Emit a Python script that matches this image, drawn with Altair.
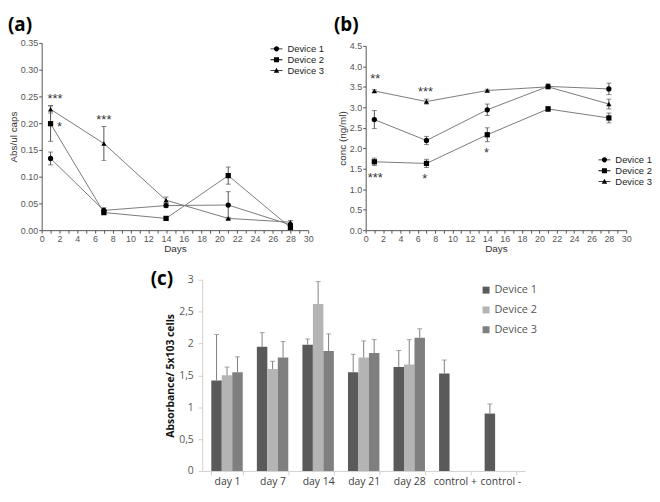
import altair as alt
import pandas as pd

# ---------------- data ----------------
days = [1, 7, 14, 21, 28]
devices = ["Device 1", "Device 2", "Device 3"]

# panel (a): Abs/ul caps
a_mean = {
    "Device 1": [0.134, 0.037, 0.046, 0.047, 0.010],
    "Device 2": [0.199, 0.033, 0.022, 0.102, 0.005],
    "Device 3": [0.226, 0.162, 0.056, 0.022, 0.015],
}
a_err = {
    "Device 1": [0.012, 0.005, 0.003, 0.025, 0.003],
    "Device 2": [0.033, 0.004, 0.002, 0.016, 0.004],
    "Device 3": [0.007, 0.032, 0.006, 0.002, 0.003],
}
a_star_text = ["***", "*", "***"]
a_star_day = [1.5, 2.0, 7.0]
a_star_val = [0.250, 0.198, 0.212]

# panel (b): conc (ng/ml)
b_mean = {
    "Device 1": [2.70, 2.19, 2.94, 3.51, 3.45],
    "Device 2": [1.67, 1.63, 2.33, 2.96, 2.74],
    "Device 3": [3.40, 3.14, 3.41, 3.50, 3.08],
}
b_err = {
    "Device 1": [0.22, 0.10, 0.14, 0.06, 0.14],
    "Device 2": [0.09, 0.10, 0.17, 0.06, 0.12],
    "Device 3": [0.03, 0.06, 0.03, 0.05, 0.12],
}
b_star_text = ["**", "***", "***", "*", "*"]
b_star_day = [1.1, 6.9, 1.1, 6.8, 13.9]
b_star_val = [3.77, 3.45, 1.34, 1.31, 1.95]

# panel (c): Absorbance / 5x103 cells
groups = ["day 1", "day 7", "day 14", "day 21", "day 28", "control +", "control -"]
c_mean = {
    "Device 1": [1.42, 1.95, 1.98, 1.55, 1.63, 1.53, 0.90],
    "Device 2": [1.50, 1.60, 2.62, 1.78, 1.67],
    "Device 3": [1.55, 1.78, 1.88, 1.85, 2.09],
}
c_err = {
    "Device 1": [0.72, 0.22, 0.09, 0.28, 0.26, 0.21, 0.15],
    "Device 2": [0.13, 0.12, 0.35, 0.26, 0.39],
    "Device 3": [0.24, 0.25, 0.27, 0.21, 0.14],
}
c_colors = ["#5a5a5a", "#b4b4b4", "#7f7f7f"]

FONT = "Liberation Sans"
BOLD_FONT = "Open Sans"
NOVIEW = alt.ViewBackground(stroke="transparent", strokeWidth=0)
TAG_SIZE = 19


def tidy(mean, err, keys, keyname):
    rows = []
    for dev in devices:
        for k, v, e in zip(keys, mean[dev], err[dev]):
            rows.append({keyname: k, "Device": dev, "value": v, "lo": v - e, "hi": v + e})
    return pd.DataFrame(rows)


# legend symbols: a short line with the marker on it
LINE = "M-1,-0.07 L1,-0.07 L1,0.07 L-1,0.07 Z "
leg_paths = [
    LINE + "M0.44,0 A0.44,0.44 0 1,1 -0.44,0 A0.44,0.44 0 1,1 0.44,0 Z",
    LINE + "M-0.42,-0.42 L0.42,-0.42 L0.42,0.42 L-0.42,0.42 Z",
    LINE + "M0,-0.48 L0.46,0.36 L-0.46,0.36 Z",
]


def line_panel(mean, err, st_text, st_day, st_val, ymax, ystep, yfmt, ytitle,
               width, height, yrange, leg_x, leg_y, tag, tag_x):
    df = tidy(mean, err, days, "Day")
    stars = pd.DataFrame({"Day": st_day, "value": st_val, "s": st_text})
    tagdf = pd.DataFrame({"t": [tag]})

    ax_common = dict(domainColor="#555555", tickColor="#555555", labelColor="#555555",
                     labelFontSize=9, labelFont=FONT, titleFont=FONT, titleFontSize=10,
                     titleColor="#333333", titleFontWeight="normal", tickSize=3,
                     labelPadding=1, grid=False, labelOverlap=False, labelFlush=False)
    nticks = int(round(ymax / ystep))
    yvals = [round(i * ystep, 3) for i in range(nticks + 1)]
    xsc = alt.Scale(domain=[0, 30], nice=False, zero=False)
    ysc_kw = dict(domain=[0, ymax], nice=False)
    if yrange is not None:
        ysc_kw["range"] = yrange
    ysc = alt.Scale(**ysc_kw)

    def X():
        return alt.X("Day:Q", title="Days", scale=xsc,
                     axis=alt.Axis(values=list(range(31)),
                                   labelExpr="datum.value % 2 === 0 ? datum.label : ''",
                                   titlePadding=1, **ax_common))

    def Y(field):
        return alt.Y(field, title=ytitle, scale=ysc,
                     axis=alt.Axis(values=yvals, format=yfmt, titlePadding=2, **ax_common))

    base = alt.Chart(df)
    lines = base.mark_line(color="#7a7a7a", strokeWidth=1).encode(
        x=X(), y=Y("value:Q"), detail="Device:N")
    rule = base.mark_rule(color="#555555", strokeWidth=1).encode(
        x=X(), y=Y("lo:Q"), y2="hi:Q")
    tlo = base.mark_tick(orient="horizontal", size=5, thickness=1, color="#555555").encode(
        x=X(), y=Y("lo:Q"))
    thi = base.mark_tick(orient="horizontal", size=5, thickness=1, color="#555555").encode(
        x=X(), y=Y("hi:Q"))
    pts = base.mark_point(filled=True, size=28, opacity=1, color="black").encode(
        x=X(), y=Y("value:Q"),
        shape=alt.Shape("Device:N", legend=None,
                        scale=alt.Scale(domain=devices, range=["circle", "square", "triangle-up"])))
    leg = base.transform_filter("false").mark_point(filled=True, opacity=1, color="black").encode(
        x=X(), y=Y("value:Q"),
        shape=alt.Shape("Device:N", scale=alt.Scale(domain=devices, range=leg_paths),
                        legend=alt.Legend(title=None, orient="none", legendX=leg_x, legendY=leg_y,
                                          symbolSize=144, labelFontSize=9.5, labelFont=FONT,
                                          labelColor="#222222", labelOffset=5, rowPadding=0,
                                          padding=0, symbolFillColor="black",
                                          symbolStrokeColor="black", symbolStrokeWidth=0)))
    st = alt.Chart(stars).mark_text(font=FONT, fontSize=13, baseline="alphabetic", dy=7,
                                    color="#333333").encode(
        x=X(), y=Y("value:Q"), text="s:N")
    tg = alt.Chart(tagdf).mark_text(font=BOLD_FONT, fontSize=TAG_SIZE, fontWeight="bold",
                                    align="left", baseline="top", color="black").encode(
        x=alt.value(tag_x), y=alt.value(-27), text="t:N")
    return alt.layer(lines, rule, tlo, thi, pts, leg, st, tg).resolve_scale(
        shape="independent").properties(width=width, height=height, view=NOVIEW)


chart_a = line_panel(a_mean, a_err, a_star_text, a_star_day, a_star_val, 0.35, 0.05, ".2f",
                     "Abs/ul caps", 269, 189, None, 231, 0, "(a)", -34)
chart_b = line_panel(b_mean, b_err, b_star_text, b_star_day, b_star_val, 4.5, 0.5, ".1f",
                     "conc (ng/ml)", 263, 189, [189, 3], 235, 112, "(b)", -32)

# ---------------- panel (c) ----------------
cdf = tidy(c_mean, c_err, groups, "Group")
ctag = pd.DataFrame({"t": ["(c)"]})
CTITLE = "Absorbance/ 5x103 cells"


def CX():
    return alt.X("Group:N", sort=groups, title=None,
                 scale=alt.Scale(domain=groups, paddingInner=0.31, paddingOuter=0.2),
                 axis=alt.Axis(domainColor="#d0d0d0", tickColor="#d0d0d0", tickSize=4,
                               tickBand="extent", labelColor="#404040", labelFont=BOLD_FONT,
                               labelFontSize=10.5, labelPadding=2, labelAngle=0, grid=False,
                               title=None, labelOverlap=False))


def CY(field):
    return alt.Y(field, title=CTITLE, scale=alt.Scale(domain=[0, 3], nice=False),
                 axis=alt.Axis(values=[0, 0.5, 1, 1.5, 2, 2.5, 3],
                               labelExpr="replace(toString(datum.value), '.', ',')",
                               domainColor="#d0d0d0", tickColor="#d0d0d0", tickSize=4,
                               labelColor="#595959", labelFont=BOLD_FONT, labelFontSize=10.5,
                               labelPadding=5, grid=False, labelOverlap=False, labelFlush=False,
                               titleFont=BOLD_FONT, titleFontSize=10.5, titleFontWeight="bold",
                               titleColor="#111111", titlePadding=3))


CXO = alt.XOffset("Device:N", sort=devices,
                  scale=alt.Scale(domain=devices, paddingInner=0, paddingOuter=0))

cbase = alt.Chart(cdf)
bars = cbase.mark_bar().encode(
    x=CX(), xOffset=CXO, y=CY("value:Q"),
    color=alt.Color("Device:N", scale=alt.Scale(domain=devices, range=c_colors),
                    legend=alt.Legend(title=None, orient="none", legendX=281, legendY=5,
                                      symbolType="square", symbolSize=49, symbolStrokeWidth=0,
                                      labelFont=BOLD_FONT, labelFontSize=11,
                                      labelColor="#555555", labelOffset=3, rowPadding=8,
                                      padding=0)))
crule = cbase.mark_rule(color="#7f7f7f", strokeWidth=1).encode(
    x=CX(), xOffset=CXO, y=CY("value:Q"), y2="hi:Q")
ctick = cbase.mark_tick(orient="horizontal", size=5, thickness=1, color="#7f7f7f").encode(
    x=CX(), xOffset=CXO, y=CY("hi:Q"))
ctg = alt.Chart(ctag).mark_text(font=BOLD_FONT, fontSize=TAG_SIZE, fontWeight="bold",
                                align="left", baseline="top", color="black").encode(
    x=alt.value(-52), y=alt.value(-10), text="t:N")

chart_c = alt.layer(bars, crule, ctick, ctg).properties(width=326, height=193, view=NOVIEW)

spacer = alt.Chart(pd.DataFrame({"v": [0]})).mark_point(size=0, opacity=0).encode(
    x=alt.X("v:Q", axis=None), y=alt.Y("v:Q", axis=None)).properties(
    width=1, height=1, view=NOVIEW)

top = alt.hconcat(chart_a, chart_b, spacing=10)
bottom = alt.hconcat(spacer, chart_c, spacing=109).resolve_scale(color="independent")
chart = alt.vconcat(top, bottom, spacing=16).resolve_scale(color="independent").properties(
    padding={"top": 6, "left": 0, "right": 0, "bottom": 0}).configure_view(
    strokeWidth=0, stroke="transparent").configure(font=FONT)

chart.save("out.html", embed_options={"renderer": "svg", "actions": False})
